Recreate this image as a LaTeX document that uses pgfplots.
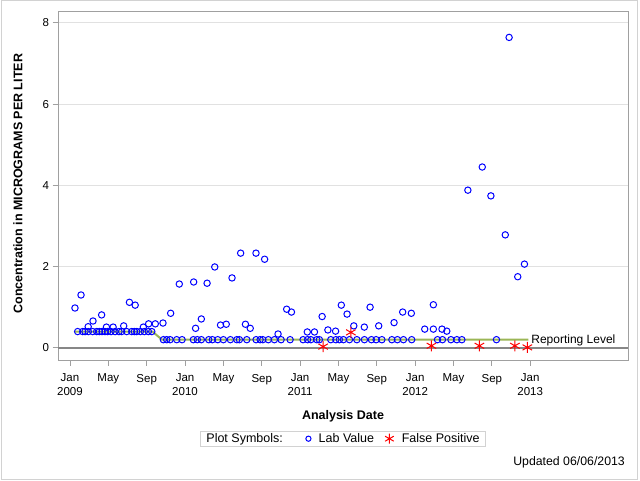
\documentclass[border=0pt]{standalone}
\usepackage{fontspec}
\setmainfont{Liberation Sans}
\usepackage{pgfplots}
\pgfplotsset{compat=1.18}

\definecolor{reflvl}{RGB}{155,182,86}
\definecolor{framec}{RGB}{160,160,160}
\definecolor{gridc}{RGB}{225,225,225}
\definecolor{zeroln}{RGB}{135,135,135}
\definecolor{outerc}{RGB}{210,210,210}

% x = months since Jan 2009
\pgfplotstableread{
x y
0.52 0.98
1.15 1.30
0.80 0.40
1.33 0.40
1.57 0.40
1.91 0.40
2.37 0.40
2.79 0.40
3.06 0.40
3.34 0.40
3.65 0.40
3.93 0.40
4.28 0.40
4.70 0.40
5.11 0.40
5.39 0.40
5.92 0.40
6.44 0.40
6.71 0.40
6.96 0.40
7.34 0.40
7.75 0.40
8.17 0.40
8.53 0.40
1.90 0.52
2.40 0.66
3.30 0.81
3.80 0.51
4.50 0.51
5.60 0.54
6.20 1.12
6.80 1.05
7.65 0.51
8.20 0.59
8.90 0.59
9.70 0.61
10.50 0.85
11.40 1.57
9.74 0.20
10.09 0.20
10.44 0.20
11.13 0.20
11.69 0.20
12.87 0.20
13.28 0.20
13.70 0.20
14.47 0.20
14.85 0.20
15.41 0.20
16.00 0.20
16.73 0.20
17.40 0.20
17.67 0.20
18.44 0.20
19.41 0.20
19.83 0.20
20.11 0.20
20.69 0.20
21.32 0.20
22.02 0.20
22.96 0.20
24.31 0.20
24.78 0.20
25.12 0.20
25.74 0.20
26.01 0.20
27.20 0.20
27.73 0.20
28.10 0.20
28.52 0.20
29.15 0.20
29.92 0.20
30.71 0.20
31.44 0.20
31.93 0.20
32.53 0.20
33.57 0.20
34.15 0.20
34.78 0.20
35.64 0.20
38.33 0.20
38.85 0.20
39.73 0.20
40.35 0.20
40.87 0.20
44.48 0.20
12.90 1.62
14.30 1.59
15.10 1.99
16.90 1.72
17.80 2.33
19.40 2.33
20.30 2.18
13.10 0.48
13.70 0.71
15.70 0.56
16.30 0.58
18.30 0.58
18.80 0.48
21.70 0.34
22.60 0.95
23.10 0.88
24.75 0.39
25.50 0.39
26.30 0.77
26.90 0.44
27.70 0.41
28.30 1.05
28.90 0.83
29.60 0.54
30.70 0.51
31.30 1.00
32.20 0.54
33.80 0.62
34.70 0.88
35.60 0.85
37.00 0.46
37.90 1.06
37.90 0.46
38.80 0.46
39.30 0.41
41.50 3.88
43.00 4.45
43.90 3.74
45.40 2.78
45.80 7.64
46.70 1.75
47.40 2.06
}\labdata

\pgfplotstableread{
x y
26.40 0.03
29.30 0.38
37.70 0.05
42.70 0.05
46.40 0.05
47.70 0.01
}\fpdata

\begin{document}
\begin{tikzpicture}[x=1pt,y=1pt]
\path (0,0) rectangle (640,480);
\draw[outerc, line width=1pt] (1,1) rectangle (637,479);
\begin{axis}[
  at={(58pt,120pt)}, anchor=south west,
  scale only axis, width=570pt, height=349pt,
  xmin=-1.25, xmax=58.2, ymin=-0.3, ymax=8.29,
  axis line style={framec},
  every tick/.style={framec, line width=0.8pt},
  major tick length=5.5pt,
  tick align=outside, xtick pos=bottom, ytick pos=left,
  xtick={0,4,...,48},
  xticklabels={Jan\\2009,May,Sep,Jan\\2010,May,Sep,Jan\\2011,May,Sep,Jan\\2012,May,Sep,Jan\\2013},
  xticklabel style={align=center, font=\fontsize{11.5}{14}\selectfont, anchor=north, yshift=-5pt},
  ytick={0,2,4,6,8},
  yticklabel style={font=\fontsize{11.5}{14}\selectfont},
  /pgf/number format/assume math mode=true,
  ymajorgrids, grid style={gridc, line width=0.8pt},
  xlabel={Analysis Date},
  ylabel={Concentration in MICROGRAMS PER LITER},
  every axis x label/.style={at={(axis description cs:0.5,-0.16)}, anchor=center, font=\fontsize{12.5}{14}\selectfont\bfseries},
  every axis y label/.style={at={(axis description cs:-0.0702,0.505)}, anchor=center, rotate=90, font=\fontsize{12.5}{14}\selectfont\bfseries},
  legend style={at={(0.5,-0.2255)}, anchor=center, draw=outerc, line width=0.8pt,
    font=\fontsize{12.5}{14}\selectfont, inner xsep=6pt, inner ysep=2pt,
    nodes={inner sep=0pt},
    /tikz/column 1/.style={column sep=0pt},
    /tikz/column 2/.style={column sep=23pt},
    /tikz/column 3/.style={column sep=7.7pt},
    /tikz/column 4/.style={column sep=11pt},
    /tikz/column 5/.style={column sep=8pt}},
  legend columns=-1,
  clip=false,
]
\addlegendimage{empty legend}
\addlegendentry{Plot Symbols:}
\addplot[zeroln, line width=2pt, forget plot] coordinates {(-1.25,0) (58.2,0)};
\addplot[reflvl, line width=2pt, forget plot] coordinates {(0.5,0.4) (8.6,0.4) (9.6,0.2) (47.8,0.2)};
\addplot[only marks, mark=o, blue, mark size=3.2pt, line width=1pt,
  legend image code/.code={\draw[mark=o, mark size=2.6pt, blue, line width=1pt, only marks] plot coordinates {(0pt,0pt)};}] table {\labdata};
\addlegendentry{Lab Value}
\addplot[only marks, mark=asterisk, red, mark size=5.5pt, line width=1pt,
  legend image code/.code={\draw[mark=asterisk, mark size=5pt, red, line width=1pt, only marks] plot coordinates {(0pt,0pt)};}] table {\fpdata};
\addlegendentry{False Positive}
\node[anchor=west, inner sep=0pt, font=\fontsize{12}{14}\selectfont] at (axis cs:48.1,0.18) {Reporting Level};
\end{axis}
\node[anchor=east, inner sep=0pt, font=\fontsize{12.3}{14}\selectfont] at (625,17.3) {Updated 06/06/2013};
\end{tikzpicture}
\end{document}
